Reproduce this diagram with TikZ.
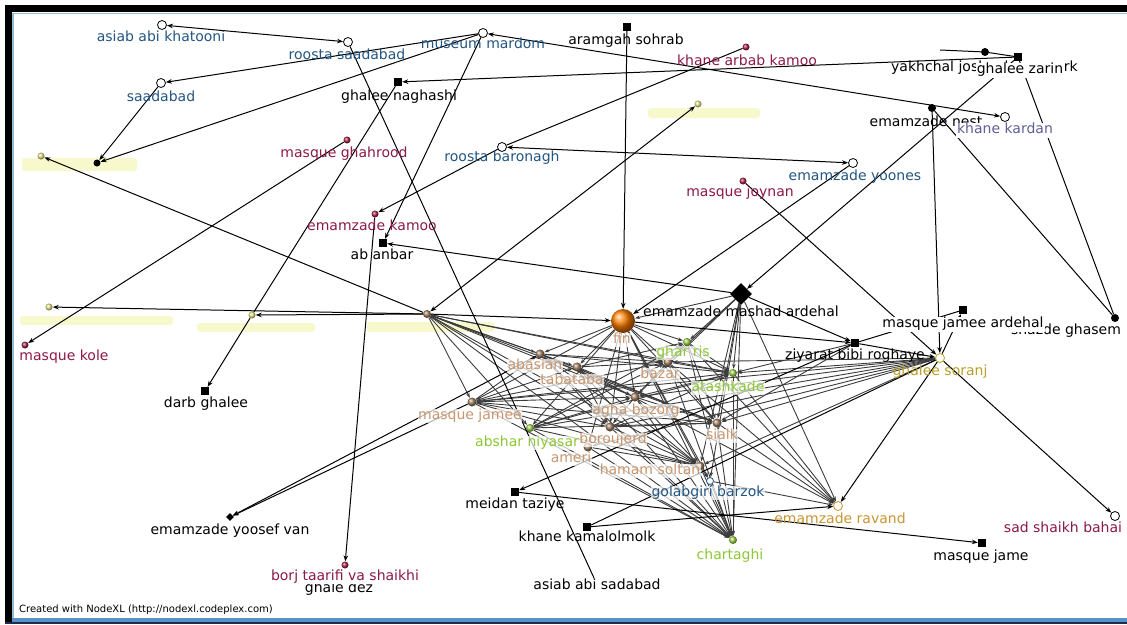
\documentclass[tikz,border=0pt]{standalone}
\usepackage{fontspec}
\setmainfont{DejaVu Sans}
\usetikzlibrary{arrows.meta,shapes.geometric}
\pgfdeclarelayer{background}
\pgfsetlayers{background,main}
\definecolor{lblue}{RGB}{35,85,130}
\definecolor{kkcol}{RGB}{95,95,150}
\definecolor{dred}{RGB}{140,25,70}
\definecolor{tanl}{RGB}{200,150,110}
\definecolor{grnl}{RGB}{140,200,50}
\definecolor{goldl}{RGB}{185,160,40}
\definecolor{ravl}{RGB}{200,150,50}
\definecolor{pinred}{RGB}{175,30,70}
\definecolor{pingrn}{RGB}{160,215,70}
\definecolor{tanball}{RGB}{165,130,100}
\definecolor{yelball}{RGB}{235,235,140}
\definecolor{yblob}{RGB}{248,248,205}
\definecolor{coregray}{RGB}{60,60,60}
\definecolor{frameblue}{RGB}{150,190,210}
\definecolor{botblue}{RGB}{90,145,200}
\definecolor{botdark}{RGB}{30,45,75}
\begin{document}
\begin{tikzpicture}[x=1pt,y=-1pt,
  odot/.style={circle,draw=black,fill=white,line width=0.8pt,minimum size=9pt,inner sep=0pt},
  ycirc/.style={circle,draw=goldl,fill=white,line width=0.8pt,minimum size=9pt,inner sep=0pt},
  sq/.style={rectangle,fill=black,minimum size=8pt,inner sep=0pt},
  bdot/.style={circle,fill=black,minimum size=8pt,inner sep=0pt},
  rpin/.style={circle,shading=ball,ball color=pinred,minimum size=7pt,inner sep=0pt},
  gpin/.style={circle,shading=ball,ball color=pingrn,minimum size=8pt,inner sep=0pt},
  tball/.style={circle,shading=ball,ball color=tanball,minimum size=9pt,inner sep=0pt},
  yball/.style={circle,shading=ball,ball color=yelball,minimum size=7pt,inner sep=0pt},
  finball/.style={circle,shading=ball,ball color=orange,minimum size=24pt,inner sep=0pt},
  bigdiam/.style={diamond,fill=black,minimum size=22pt,inner sep=0pt},
  smdiam/.style={diamond,fill=black,minimum size=8pt,inner sep=0pt},
  lbl/.style={font=\fontsize{14}{14}\selectfont,inner sep=1pt,text height=10pt,text depth=3pt},
  wlbl/.style={lbl,fill=white},
  clbl/.style={lbl,fill=white,fill opacity=0.7,text opacity=1,inner sep=0.5pt},
  pe/.style={line width=1pt,draw=black},
  arr/.style={pe,-{Stealth[length=6pt,width=4.5pt]}},
  arr2/.style={pe,{Stealth[length=6pt,width=4.5pt]}-{Stealth[length=6pt,width=4.5pt]}},
  ce/.style={line width=0.9pt,draw=coregray,-{Stealth[length=5pt,width=3.5pt]}}
]
\useasboundingbox (0,0) rectangle (1127,624);

% ---------- markers ----------
\node[odot] (akh) at (162,25) {};
\node[odot] (rsa) at (348,42) {};
\node[odot] (sab) at (161,83) {};
\node[odot] (mus) at (483,33) {};
\node[sq] (ars) at (627,27) {};
\node[rpin] (kak) at (746,47) {};
\node[bdot] (yak) at (985,52) {};
\node[sq] (gza) at (1018,57) {};
\node[sq] (gna) at (398,82) {};
\node[rpin] (mgh) at (347,140) {};
\node[odot] (rba) at (502,147) {};
\node[yball] (ytop) at (698,104) {};
\node[bdot,minimum size=7pt] (nA) at (97,163) {};
\node[yball] (y1) at (41,156) {};
\node[rpin] (emk) at (375,214) {};
\node[sq] (aba) at (383,243) {};
\node[rpin] (mjo) at (743,181) {};
\node[odot] (emy) at (853,163) {};
\node[bdot] (emn) at (932,108) {};
\node[odot] (kka) at (1005,117) {};
\node[yball] (yc) at (49,307) {};
\node[yball] (yd) at (252,315) {};
\node[tball,minimum size=8pt] (coreY) at (427,314) {};
\node[rpin] (mko) at (25,345) {};
\node[sq] (dgh) at (205,391) {};
\node[finball] (fin) at (623,321) {};
\node[bigdiam] (ems) at (741,294) {};
\node[sq] (zbr) at (855,343) {};
\node[sq] (mja) at (963,310) {};
\node[bdot] (shg) at (1115,318) {};
\node[ycirc] (gso) at (940,358) {};
\node[smdiam] (yvan) at (230,517) {};
\node[rpin] (borj) at (345,565) {};
\node[sq] (mtz) at (515,492) {};
\node[sq] (kkm) at (587,527) {};
\coordinate (aas) at (594,578);
\node[sq] (mjm) at (982,543) {};
\node[odot] (ssb) at (1115,516) {};
\node[ycirc,draw=ravl] (rav) at (838,506) {};
\node[gpin] (cht) at (733,540) {};
\node[odot,minimum size=7pt,draw=lblue] (gol) at (710,481) {};
\coordinate (stub) at (940,50);
% core
\node[tball] (abas) at (540,354) {};
\node[tball] (taba) at (577,367) {};
\node[tball] (bazar) at (668,362) {};
\node[gpin] (ghar) at (687,342) {};
\node[gpin] (atash) at (733,373) {};
\node[tball] (agha) at (635,397) {};
\node[tball] (mjee) at (472,402) {};
\node[gpin] (absh) at (530,428) {};
\node[tball] (boro) at (610,427) {};
\node[tball] (sialk) at (717,423) {};
\node[tball] (ameri) at (588,447) {};
\node[tball] (hamam) at (700,466) {};

% ---------- edges (behind) ----------
\begin{pgfonlayer}{background}
\fill[white] (0,0) rectangle (1127,624);
\fill[yblob,rounded corners=3pt] (22,158) rectangle (137,171);
\fill[yblob,rounded corners=3pt] (648,108) rectangle (760,118);
\fill[yblob,rounded corners=3pt] (20,316) rectangle (173,325);
\fill[yblob,rounded corners=3pt] (197,323) rectangle (315,332);
\fill[yblob,rounded corners=3pt] (367,322) rectangle (495,332);

\foreach \a/\b in {fin/abas,fin/taba,fin/bazar,fin/ghar,fin/atash,fin/agha,fin/mjee,fin/absh,fin/boro,fin/sialk,fin/ameri,fin/hamam,fin/gol,fin/cht,
  ems/fin,ems/ghar,ems/atash,ems/bazar,ems/sialk,ems/agha,ems/cht,ems/hamam,ems/rav,ems/gol,
  coreY/abas,coreY/taba,coreY/mjee,coreY/absh,coreY/agha,coreY/boro,coreY/bazar,coreY/sialk,coreY/hamam,coreY/cht,coreY/atash,
  gso/atash,gso/sialk,gso/bazar,gso/agha,gso/boro,gso/absh,gso/hamam,gso/ameri,gso/mjee,
  mjee/taba,mjee/agha,mjee/atash,mjee/sialk,mjee/bazar,mjee/hamam,mjee/cht,mjee/abas,mjee/boro,
  abas/bazar,abas/atash,abas/agha,abas/sialk,abas/hamam,abas/boro,abas/cht,
  taba/bazar,taba/ghar,taba/sialk,taba/hamam,taba/boro,taba/cht,taba/rav,
  absh/agha,absh/bazar,absh/sialk,absh/atash,absh/ghar,absh/hamam,absh/cht,
  agha/sialk,agha/atash,agha/hamam,agha/cht,agha/boro,agha/ghar,
  boro/sialk,boro/atash,boro/cht,boro/hamam,
  bazar/atash,bazar/sialk,bazar/cht,bazar/rav,
  ghar/atash,ghar/sialk,ghar/cht,ghar/rav,
  atash/cht,atash/rav,sialk/cht,sialk/rav,
  hamam/cht,hamam/gol,gol/rav,gol/cht,ameri/hamam,ameri/cht,
  zbr/sialk,zbr/atash}
  \draw[ce] (\a) -- (\b);

\draw[arr2] (rsa) -- (akh);
\draw[arr] (mus) -- (sab);
\draw[arr] (mus) -- (nA);
\draw[arr] (sab) -- (nA);
\draw[arr] (coreY) -- (y1);
\draw[arr] (mgh) -- (mko);
\draw[pe] (rsa) -- (aas);
\draw[pe] (gna) -- (yd);
\draw[arr] (yd) -- (dgh);
\draw[arr] (coreY) -- (yc);
\draw[arr] (coreY) -- (yd);
\draw[arr] (mus) -- (aba);
\draw[arr] (rba) -- (emk);
\draw[arr] (emk) -- (borj);
\draw[pe] (kak) -- (rba);
\draw[arr2] (rba) -- (emy);
\draw[arr] (ars) -- (fin);
\draw[arr2] (mus) -- (kka);
\draw[arr] (gza) -- (gna);
\draw[pe] (stub) -- (yak) -- (gza);
\draw[arr] (gza) -- (ems);
\draw[arr] (emn) -- (gso);
\draw[pe] (emn) -- (shg);
\draw[pe] (gza) -- (shg);
\draw[arr] (emy) -- (fin);
\draw[arr] (mjo) -- (gso);
\draw[arr] (gso) -- (ssb);
\draw[arr] (gso) -- (mja);
\draw[pe] (mja) -- (zbr);
\draw[arr] (zbr) -- (gso);
\draw[arr] (ems) -- (zbr);
\draw[arr] (fin) -- (zbr);
\draw[arr] (ems) -- (aba);
\draw[arr2] (coreY) -- (ytop);
\draw[arr] (coreY) -- (fin);
\draw[arr] (gso) -- (rav);
\draw[arr] (mtz) -- (mjm);
\draw[arr] (zbr) -- (mtz);
\draw[arr] (kkm) -- (rav);
\draw[pe] (kkm) -- (gso);
\draw[arr] (mjee) -- (yvan);
\draw[arr] (abas) -- (yvan);
\end{pgfonlayer}

% ---------- labels ----------
\node[lbl,text=lblue] (akh-l) at (161,38) {asiab abi khatooni};
\node[lbl,text=lblue] (rsa-l) at (347,56) {roosta saadabad};
\node[lbl,text=lblue] (sab-l) at (161,98) {saadabad};
\node[lbl,text=lblue] (mus-l) at (483,45) {museum mardom};
\node[lbl] (ars-l) at (626,41) {aramgah sohrab};
\node[lbl,text=dred] (kak-l) at (747,62) {khane arbab kamoo};
\node[lbl,anchor=west] (yak-l) at (890,68) {yakhchal joshaghan\hspace{11pt} park};
\node[wlbl] (gza-l) at (1020,70) {ghalee zarin};
\node[lbl] (gna-l) at (399,97) {ghalee naghashi};
\node[lbl,text=dred] (mgh-l) at (344,154) {masque ghahrood};
\node[lbl,text=lblue] (rba-l) at (502,158) {roosta baronagh};
\node[lbl,text=dred] (emk-l) at (372,227) {emamzade kamoo};
\node[lbl] (aba-l) at (382,256) {ab anbar};
\node[lbl,text=dred] (mjo-l) at (740,193) {masque joynan};
\node[lbl,text=lblue] (emy-l) at (855,177) {emamzade yoones};
\node[lbl] (emn-l) at (926,123) {emamzade nest};
\node[wlbl,text=kkcol] (kka-l) at (1005,130) {khane kardan};
\node[lbl,text=dred] (mko-l) at (64,357) {masque kole};
\node[lbl] (dgh-l) at (206,404) {darb ghalee};
\node[lbl] (ems-l) at (741,313) {emamzade mashad ardehal};
\node[lbl] (zbr-l) at (855,356) {ziyarat bibi roghaye};
\node[lbl] (shg-l) at (1066,331) {shazde ghasem};
\node[wlbl] (mja-l) at (963,324) {masque jamee ardehal};
\node[lbl,text=goldl] (gso-l) at (940,372) {ghalee soranj};
\node[clbl,text=tanl] (fin-l) at (622,340) {fin};
\node[clbl,text=grnl] (ghar-l) at (683,353) {ghar ris};
\node[clbl,text=tanl] (abas-l) at (535,366) {abasian};
\node[clbl,text=tanl] (taba-l) at (572,381) {tabataba};
\node[clbl,text=tanl] (bazar-l) at (660,375) {bazar};
\node[clbl,text=grnl] (atash-l) at (728,388) {atashkade};
\node[clbl,text=tanl] (agha-l) at (636,411) {agha bozorg};
\node[clbl,text=tanl] (mjee-l) at (470,416) {masque jamee};
\node[clbl,text=grnl] (absh-l) at (527,443) {abshar niyasar};
\node[clbl,text=tanl] (boro-l) at (613,440) {boroujerd};
\node[clbl,text=tanl] (sialk-l) at (722,436) {sialk};
\node[clbl,text=tanl] (ameri-l) at (571,459) {ameri};
\node[clbl,text=tanl] (hamam-l) at (650,471) {hamam soltan};
\node[clbl,text=lblue] (gol-l) at (708,493) {golabgiri barzok};
\node[lbl] (mtz-l) at (515,505) {meidan taziye};
\node[lbl] (kkm-l) at (587,538) {khane kamalolmolk};
\node[lbl,text=ravl] (rav-l) at (840,520) {emamzade ravand};
\node[lbl,text=grnl] (cht-l) at (730,556) {chartaghi};
\node[lbl] (mjm-l) at (981,557) {masque jame};
\node[lbl,text=dred] (ssb-l) at (1063,529) {sad shaikh bahai};
\node[lbl] (yvan-l) at (230,531) {emamzade yoosef van};
\node[lbl] (dez-l) at (339,589) {ghale dez};
\node[wlbl,text=dred,inner sep=0.5pt] (borj-l) at (345,577) {borj taarifi va shaikhi};
\node[lbl] (aas-l) at (597,586) {asiab abi sadabad};
\node[font=\fontsize{10}{10}\selectfont,anchor=west,inner sep=0pt] (credit) at (19,610) {Created with NodeXL (http://nodexl.codeplex.com)};

% ---------- frame ----------
\fill[black] (5,5) rectangle (1127,12);
\fill[black] (5,5) rectangle (12,624);
\draw[frameblue,line width=1.5pt] (13,624) -- (13,13.5) -- (1127,13.5);
\fill[botblue] (12,618) rectangle (1127,621.5);
\fill[botdark] (5,621.5) rectangle (1127,624);
\end{tikzpicture}
\end{document}
